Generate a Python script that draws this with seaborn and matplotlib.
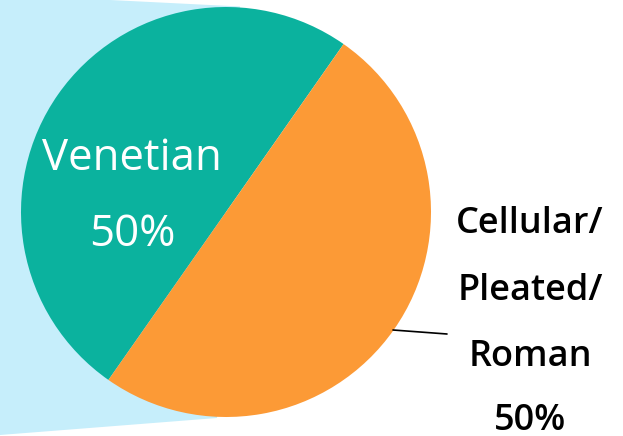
import matplotlib
matplotlib.use("Agg")
import matplotlib.pyplot as plt
import seaborn as sns
from matplotlib.patches import Polygon

categories = ["Venetian", "Cellular/\nPleated/\nRoman"]
values = [50, 50]
colors = ["#0BB29E", "#FC9A36"]

sns.set_theme(style="white")
plt.rcParams['font.family'] = ['Open Sans', 'DejaVu Sans']

W, H = 623, 436
fig = plt.figure(figsize=(W / 100, H / 100), dpi=100)
ax = fig.add_axes([0, 0, 1, 1])
ax.set_xlim(0, W)
ax.set_ylim(0, H)
ax.set_aspect('equal')
ax.axis('off')

def Y(y):
    return H - y

cx, cy, r = 226, 212, 205

# light blue connector region (pie-of-pie style)
poly = Polygon([(0, Y(-5.5)), (240, Y(6.5)), (cx, Y(cy)), (217, Y(418)), (0, Y(435))],
               closed=True, facecolor="#C6EEFB", edgecolor="none", zorder=0)
ax.add_patch(poly)

total = sum(values)
wedges, _ = ax.pie(values, colors=colors, startangle=55, counterclock=True,
                   center=(cx, Y(cy)), radius=r, frame=True,
                   wedgeprops=dict(linewidth=0))
for w in wedges:
    w.set_zorder(1)
ax.set_xlim(0, W)
ax.set_ylim(0, H)
ax.axis('off')

pcts = [f"{v / total * 100:.0f}%" for v in values]

ax.text(132, Y(159), categories[0], color="white", fontsize=31.5,
        ha="center", va="center", zorder=3)
ax.text(132, Y(235), pcts[0], color="white", fontsize=31.5,
        ha="center", va="center", zorder=3)

lines = categories[1].split("\n") + [pcts[1]]
ys = [224, 291, 357, 421]
for t, yy in zip(lines, ys):
    ax.text(530, Y(yy), t, color="black", fontsize=26, fontweight="semibold",
            ha="center", va="center", zorder=3)

ax.plot([393, 447], [Y(330), Y(334)], color="black", linewidth=1.2, zorder=2)

fig.savefig("out.png", dpi=100)
